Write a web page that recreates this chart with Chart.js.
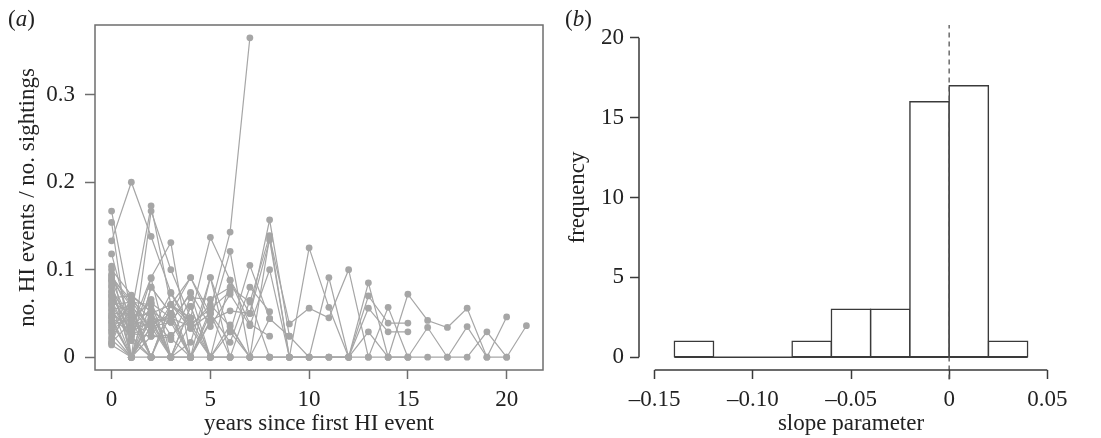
<!DOCTYPE html>
<html>
<head>
<meta charset="utf-8">
<script src="https://cdn.jsdelivr.net/npm/chart.js@4"></script>
<style>
  html, body { margin: 0; padding: 0; background: #fff; }
  #wrap { position: relative; width: 1101px; height: 438px; overflow: hidden;
          font-family: "Liberation Serif", "Times New Roman", serif; color: #222; }
  #chartA { position: absolute; left: 0; top: 0; }
  #chartB { position: absolute; left: 550px; top: 0; }
  .tag { position: absolute; font-size: 23px; line-height: 1; }
</style>
</head>
<body>
<div id="wrap">
  <canvas id="chartA" width="550" height="438"></canvas>
  <canvas id="chartB" width="551" height="438"></canvas>
  <div class="tag" style="left:8px; top:7px">(<i>a</i>)</div>
  <div class="tag" style="left:565px; top:7px">(<i>b</i>)</div>
</div>
<script>
// panel (a): ratio per individual, index = years since first HI event
const ratioSeries = [
  [0.167, 0.05, 0.173, 0.06, 0.091, 0.05],
  [0.154, 0, 0.167, 0.1, 0.045, 0.137, 0.088, 0.05, 0.157, 0.024, 0, 0.091, 0, 0.07, 0.039, 0.039],
  [0.133, 0.2, 0.138, 0.074, 0.038, 0.055, 0.143, 0.365],
  [0.118, 0.033, 0.091, 0.131, 0, 0.091, 0.029, 0.105, 0.044],
  [0.104, 0, 0.08, 0.05, 0.091, 0.042, 0.121, 0, 0.137, 0.038, 0.056, 0.045, 0.10, 0, 0.057, 0],
  [0.1, 0.071, 0.052, 0.04, 0.074, 0.035, 0.072, 0.036, 0.1, 0, 0.125, 0.057, 0, 0.085, 0, 0.072, 0.042, 0.034, 0.056, 0, 0.046],
  [0.091, 0.065, 0.044, 0.02, 0.068, 0.066, 0.08, 0.063, 0.139, 0],
  [0.088, 0.058, 0, 0.06, 0.033, 0.05, 0.017, 0.08, 0.052],
  [0.082, 0, 0.062, 0.045, 0, 0.042, 0.053, 0.05, 0.134, 0, 0, 0, 0, 0.056, 0.029, 0.029],
  [0.076, 0.042, 0.035, 0, 0.058, 0, 0.037, 0, 0, 0, 0, 0, 0, 0.029, 0, 0, 0.034, 0, 0.035, 0, 0, 0.036],
  [0.071, 0.027, 0.024, 0.025, 0.045, 0, 0.029, 0, 0.044, 0.024],
  [0.061, 0.019, 0.09, 0, 0.017, 0.091, 0],
  [0.058, 0, 0.035, 0.04, 0.073, 0],
  [0.05, 0.05, 0, 0.06, 0, 0.055, 0.075],
  [0.042, 0, 0.044, 0, 0.038, 0, 0.088, 0.038, 0.024],
  [0.035, 0.06, 0, 0.05, 0],
  [0.027, 0, 0.024, 0.022, 0, 0.04],
  [0.016, 0.07, 0.052, 0],
  [0.014, 0, 0.035],
  [0.065, 0.019, 0],
  [0.085, 0, 0.045, 0.04, 0],
  [0.095, 0.045, 0.062, 0],
  [0.07, 0.03, 0.04, 0.045, 0.035, 0.06, 0.035, 0],
  [0.055, 0.058, 0.035],
  [0.045, 0, 0.05, 0.06, 0.045],
  [0.038, 0.042, 0, 0],
  [0.03, 0.065, 0.03],
  [0.02, 0, 0.08, 0.05, 0, 0.05, 0, 0.065, 0],
  [0.053, 0.027],
  [0.063, 0.05, 0],
  [0.08, 0.033, 0.04, 0, 0],
  [0.093, 0.06, 0.024, 0.06, 0.04],
  [0.048, 0.037, 0.044, 0, 0.058, 0, 0],
  [0.023, 0.055, 0],
  [0.04, 0, 0, 0, 0, 0, 0, 0, 0, 0, 0, 0, 0, 0, 0, 0, 0, 0, 0, 0.029, 0],
  [0.068, 0.07, 0.03, 0.073, 0.033, 0],
  [0.074, 0.024, 0],
  [0.032, 0.046, 0.05],
  [0.088, 0.035, 0.055, 0],
  [0.06, 0.063, 0.06, 0.025],
  [0.046, 0.026, 0.036, 0.05],
  [0.017, 0.04, 0.066]
];
const xTicksA = [0, 5, 10, 15, 20];
const yTicksA = [0, 0.1, 0.2, 0.3];
const yTickLabelsA = ['0', '0.1', '0.2', '0.3'];

// panel (b): histogram of slope parameters
const binEdges = [-0.14, -0.12, -0.10, -0.08, -0.06, -0.04, -0.02, 0, 0.02, 0.04];
const binCounts = [1, 0, 0, 1, 3, 3, 16, 17, 1];
const xTicksB = [-0.15, -0.10, -0.05, 0, 0.05];
const xTickLabelsB = ['\u20130.15', '\u20130.10', '\u20130.05', '0', '0.05'];
const yTicksB = [0, 5, 10, 15, 20];

const FONT = { family: '"Liberation Serif", "Times New Roman", serif', size: 23 };
const TEXT = '#222';
const GREY = '#a6a6a6';

Chart.defaults.animation = false;

const boxPlugin = {
  id: 'box',
  afterDraw(chart) {
    const { ctx, chartArea: a } = chart;
    ctx.save();
    ctx.strokeStyle = '#6e6e6e';
    ctx.lineWidth = 1.5;
    ctx.strokeRect(a.left, a.top, a.right - a.left, a.bottom - a.top);
    ctx.restore();
  }
};

const axisLinePlugin = {
  id: 'axisLines',
  afterDraw(chart) {
    const { ctx, chartArea: a, scales } = chart;
    ctx.save();
    ctx.strokeStyle = '#3a3a3a';
    ctx.lineWidth = 1.5;
    ctx.beginPath();
    ctx.moveTo(a.left, scales.y.getPixelForValue(yTicksB[0]));
    ctx.lineTo(a.left, scales.y.getPixelForValue(yTicksB[yTicksB.length - 1]));
    ctx.moveTo(scales.x.getPixelForValue(xTicksB[0]), a.bottom);
    ctx.lineTo(scales.x.getPixelForValue(xTicksB[xTicksB.length - 1]), a.bottom);
    ctx.stroke();
    ctx.restore();
  }
};

function fixedTicks(list) {
  return (scale) => { scale.ticks = list.map(v => ({ value: v })); };
}

new Chart(document.getElementById('chartA'), {
  type: 'scatter',
  data: {
    datasets: ratioSeries.map(vals => ({
      data: vals.map((v, i) => ({ x: i, y: v })),
      showLine: true,
      borderColor: GREY,
      borderWidth: 1.2,
      backgroundColor: GREY,
      pointBackgroundColor: GREY,
      pointBorderWidth: 0,
      pointRadius: 3.4
    }))
  },
  options: {
    responsive: false,
    layout: { padding: { top: 25, right: 7, left: 0, bottom: 0 } },
    plugins: { legend: { display: false }, tooltip: { enabled: false } },
    scales: {
      x: {
        type: 'linear', min: -0.84, max: 21.84,
        afterBuildTicks: fixedTicks(xTicksA),
        afterFit: (s) => { s.height = 68; },
        grid: { drawOnChartArea: false, tickLength: 9, tickColor: '#6e6e6e', tickWidth: 1.5 },
        border: { display: false },
        ticks: { font: FONT, color: TEXT, padding: 7, maxRotation: 0, autoSkip: false,
                 callback: (v) => String(v) },
        title: { display: true, text: 'years since first HI event', font: FONT, color: TEXT,
                 padding: { top: 0, bottom: 0 } }
      },
      y: {
        min: -0.0146, max: 0.3796,
        afterBuildTicks: fixedTicks(yTicksA),
        afterFit: (s) => { s.width = 95; },
        grid: { drawOnChartArea: false, tickLength: 10, tickColor: '#6e6e6e', tickWidth: 1.5 },
        border: { display: false },
        ticks: { font: FONT, color: TEXT, padding: 10, autoSkip: false,
                 callback: (v, i) => yTickLabelsA[i] },
        title: { display: true, text: 'no. HI events / no. sightings', font: FONT, color: TEXT,
                 padding: { top: 14, bottom: 0 } }
      }
    }
  },
  plugins: [boxPlugin]
});

new Chart(document.getElementById('chartB'), {
  type: 'bar',
  data: {
    datasets: [
      {
        type: 'bar',
        data: binCounts.map((c, i) => ({ x: (binEdges[i] + binEdges[i + 1]) / 2, y: c })),
        backgroundColor: '#fff',
        borderColor: '#3a3a3a',
        borderWidth: 1.5,
        borderSkipped: false,
        inflateAmount: 0.75,
        barPercentage: 1,
        categoryPercentage: 1,
        grouped: false,
        order: 3
      },
      {
        type: 'line',
        data: [{ x: binEdges[0], y: 0 }, { x: binEdges[binEdges.length - 1], y: 0 }],
        borderColor: '#3a3a3a',
        borderWidth: 1.5,
        pointRadius: 0,
        order: 2
      },
      {
        type: 'line',
        data: [{ x: 0, y: -1.4 }, { x: 0, y: 20.8 }],
        borderColor: '#555',
        borderWidth: 1.3,
        borderDash: [5, 4],
        pointRadius: 0,
        clip: false,
        order: 1
      }
    ]
  },
  options: {
    responsive: false,
    layout: { padding: { top: 25, right: 38, left: 0, bottom: 0 } },
    plugins: { legend: { display: false }, tooltip: { enabled: false } },
    scales: {
      x: {
        type: 'linear', min: -0.158, max: 0.058, offset: false,
        afterBuildTicks: fixedTicks(xTicksB),
        afterFit: (s) => { s.height = 68; },
        grid: { offset: false, drawOnChartArea: false, tickLength: 9, tickColor: '#3a3a3a', tickWidth: 1.5 },
        border: { display: false },
        ticks: { font: FONT, color: TEXT, padding: 7, maxRotation: 0, autoSkip: false,
                 callback: (v, i) => xTickLabelsB[i] },
        title: { display: true, text: 'slope parameter', font: FONT, color: TEXT,
                 padding: { top: 0, bottom: 0 } }
      },
      y: {
        min: -0.8, max: 20.8,
        afterBuildTicks: fixedTicks(yTicksB),
        afterFit: (s) => { s.width = 89; },
        grid: { drawOnChartArea: false, tickLength: 9, tickColor: '#3a3a3a', tickWidth: 1.5 },
        border: { display: false },
        ticks: { font: FONT, color: TEXT, padding: 6, autoSkip: false,
                 callback: (v) => String(v) },
        title: { display: true, text: 'frequency', font: FONT, color: TEXT,
                 padding: { top: 14, bottom: 0 } }
      }
    }
  },
  plugins: [axisLinePlugin]
});
</script>
</body>
</html>
